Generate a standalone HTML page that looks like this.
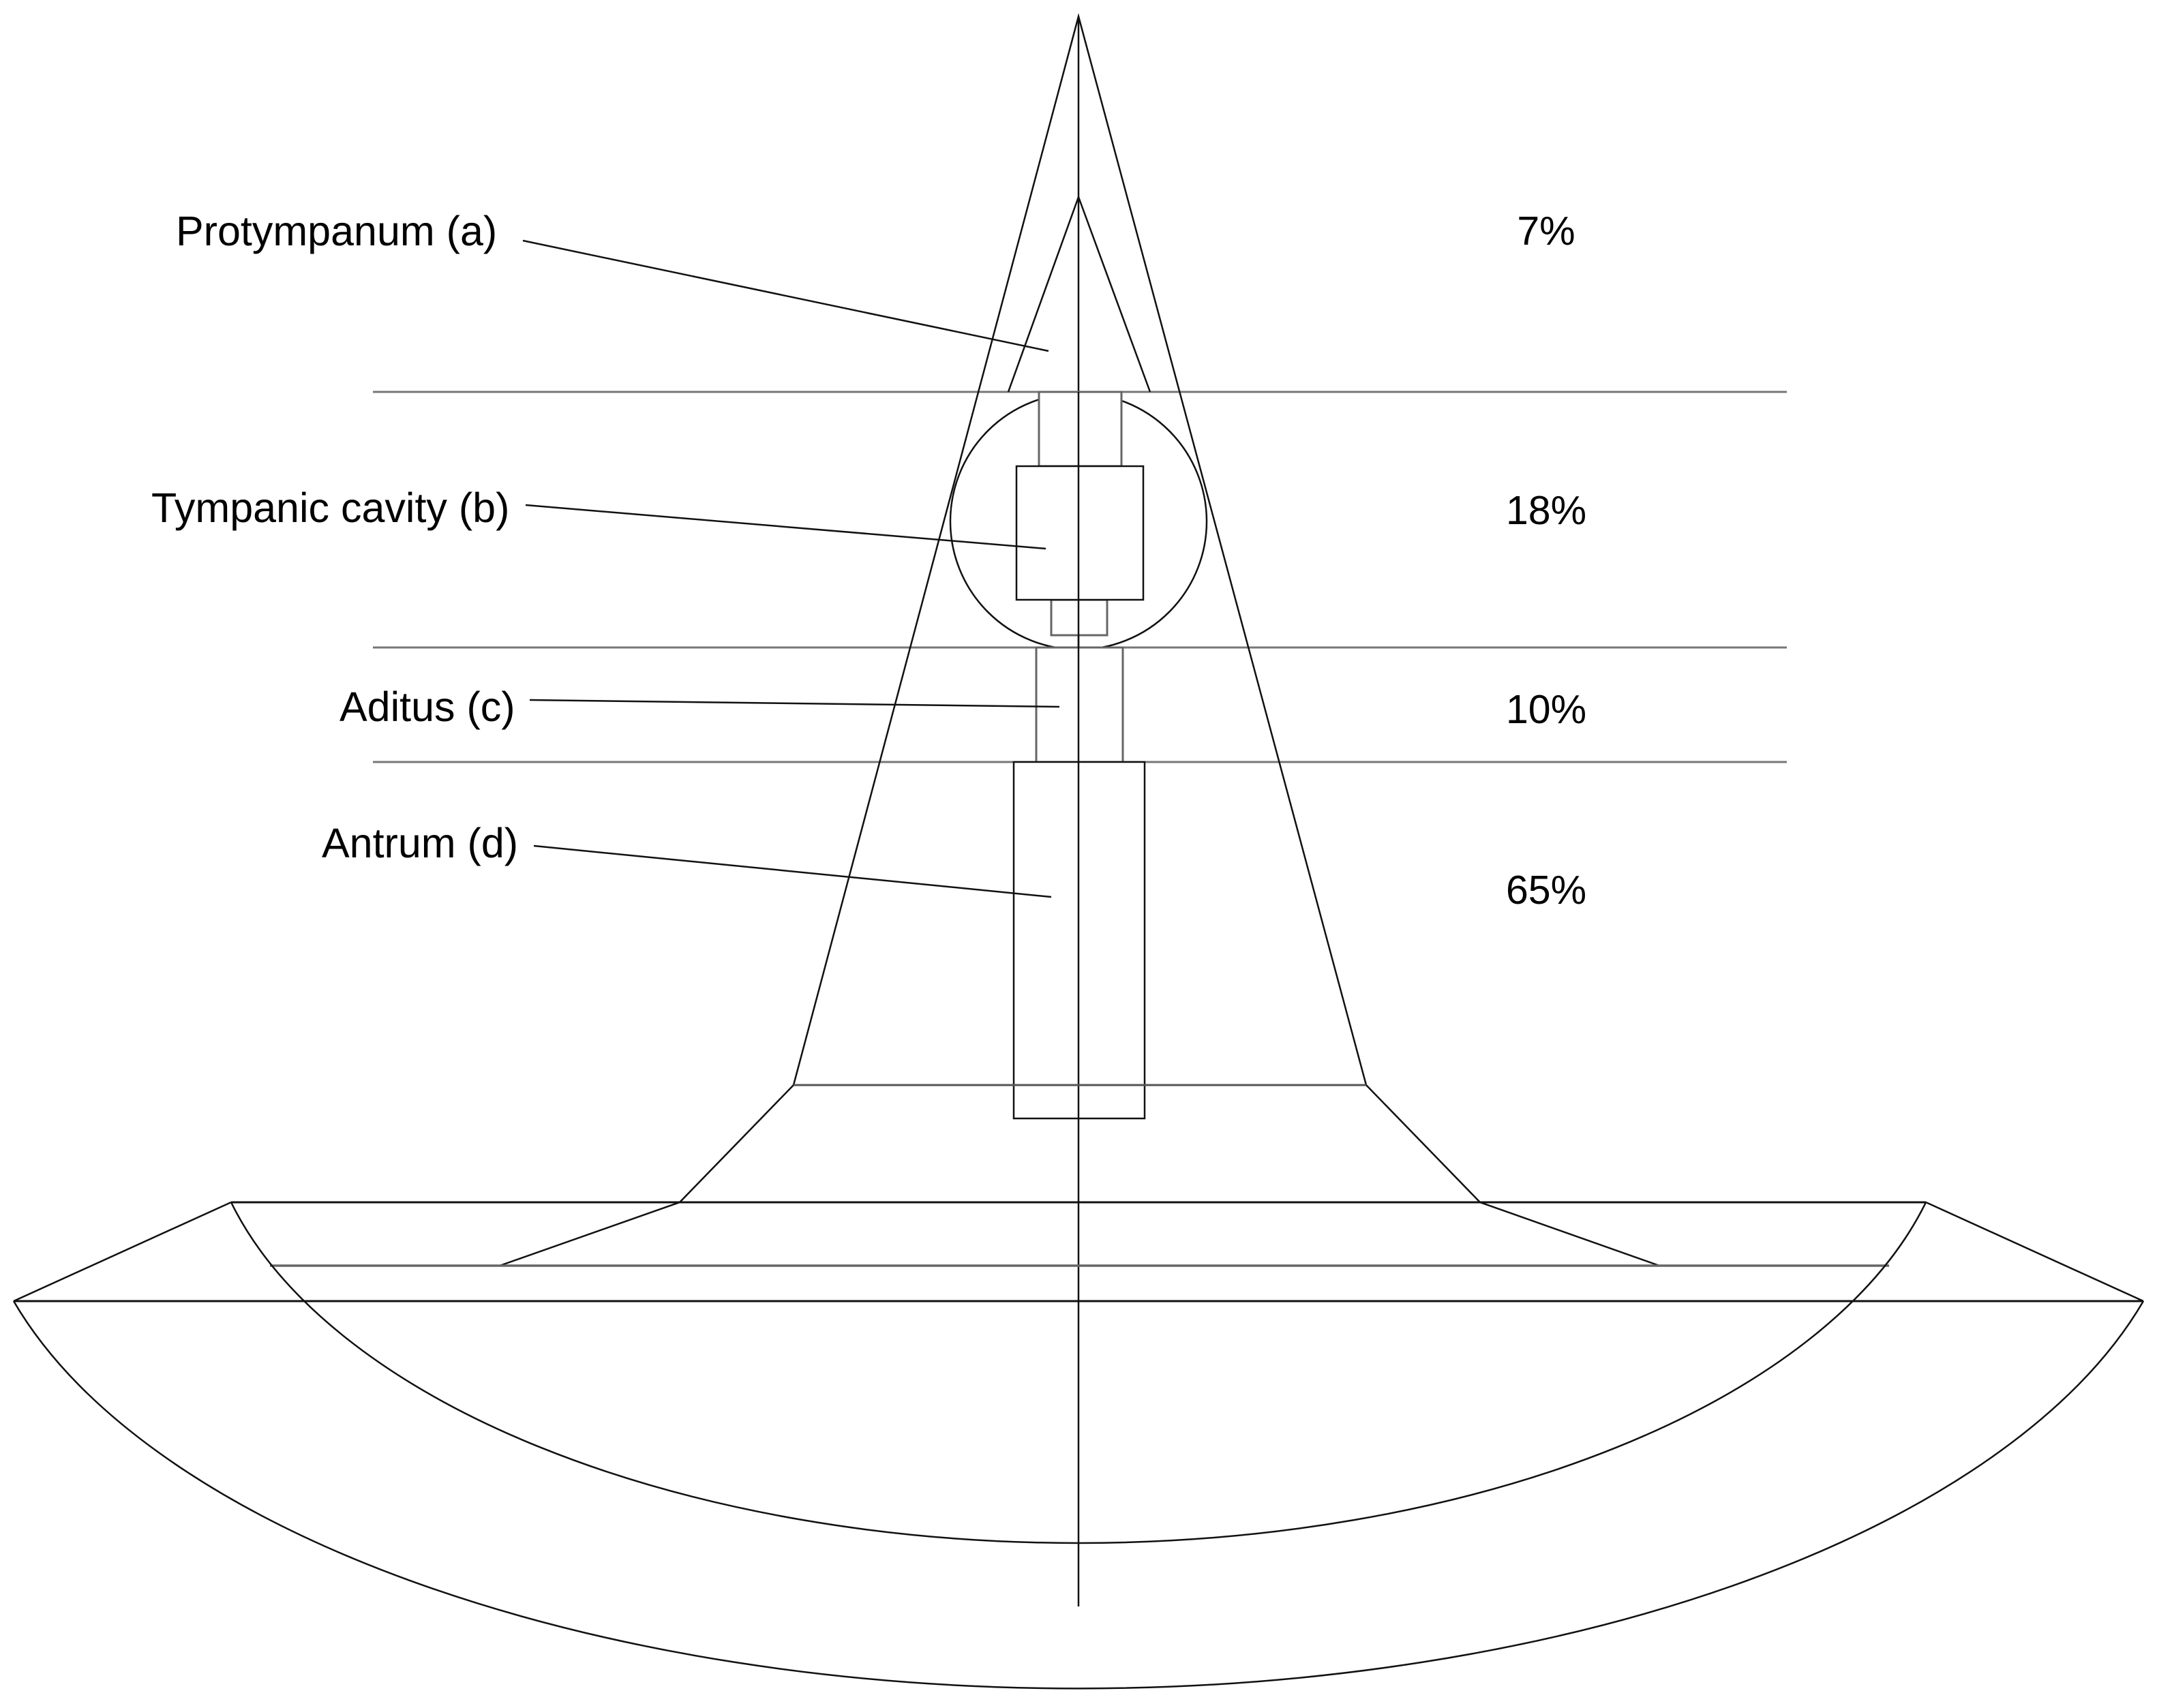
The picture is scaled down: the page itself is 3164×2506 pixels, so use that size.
<!DOCTYPE html>
<html><head><style>html,body{margin:0;padding:0;background:#fff}svg{display:block}</style></head>
<body>
<svg width="3164" height="2506" viewBox="0 0 3164 2506" xmlns="http://www.w3.org/2000/svg">
<rect width="3164" height="2506" fill="#fff"/>
<g fill="none" stroke="#111" stroke-width="2.5">
<g stroke="#777" stroke-width="3">
<line x1="547" y1="575" x2="2621" y2="575"/>
<line x1="547" y1="950" x2="2621" y2="950"/>
<line x1="547" y1="1118" x2="2621" y2="1118"/>
</g>
<line x1="1582" y1="24" x2="1582" y2="2357"/>
<polyline points="1164,1592 1582,24 2004,1592"/>
<polyline points="1479,575 1582,289 1687,575"/>
<circle cx="1582" cy="765" r="188"/>
<g stroke="#666" stroke-width="3">
<rect x="1524" y="575" width="121" height="109" fill="#fff"/>
<rect x="1542" y="880" width="82" height="52" fill="#fff"/>
<rect x="1520" y="950" width="127" height="168" fill="#fff"/>
</g>
<rect x="1491" y="684" width="186" height="196" fill="#fff"/>
<rect x="1487" y="1118" width="192" height="523" fill="#fff"/>
<line x1="1582" y1="575" x2="1582" y2="1641"/>
<line x1="1164" y1="1592" x2="2004" y2="1592" stroke="#555" stroke-width="3"/>
<polyline points="1164,1592 997,1764 733,1857"/>
<polyline points="2004,1592 2171,1764 2434,1857"/>
<line x1="339" y1="1764" x2="2825" y2="1764" stroke-width="3"/>
<line x1="396" y1="1857" x2="2771" y2="1857" stroke="#666" stroke-width="3.5"/>
<line x1="20" y1="1909" x2="3144" y2="1909" stroke-width="3"/>
<line x1="339" y1="1764" x2="20" y2="1909"/>
<line x1="2825" y1="1764" x2="3144" y2="1909"/>
<path d="M20,1909 A1622 778 0 0 0 3144,1909"/>
<path d="M339,1764 A1282 662 0 0 0 2825,1764"/>
<line x1="767" y1="353" x2="1538" y2="515"/>
<line x1="771" y1="741" x2="1534" y2="805"/>
<line x1="777" y1="1027" x2="1554" y2="1037"/>
<line x1="783" y1="1241" x2="1542" y2="1316"/>
</g>
<g font-family="Liberation Sans, sans-serif" font-size="61" fill="#000" dominant-baseline="central">
<text x="258" y="339">Protympanum (a)</text>
<text x="222" y="745">Tympanic cavity (b)</text>
<text x="498" y="1037">Aditus (c)</text>
<text x="472" y="1237">Antrum (d)</text>
<g text-anchor="middle" font-size="59">
<text x="2268" y="339">7%</text>
<text x="2268" y="749">18%</text>
<text x="2268" y="1041">10%</text>
<text x="2268" y="1306">65%</text>
</g>
</g>
</svg>
</body></html>
